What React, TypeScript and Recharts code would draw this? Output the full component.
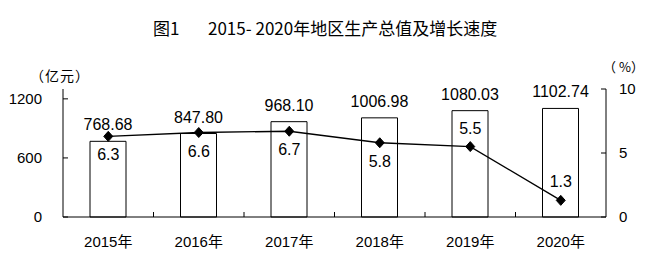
import { ComposedChart, Bar, Line, XAxis, YAxis, LabelList } from 'recharts';

const years = ['2015年', '2016年', '2017年', '2018年', '2019年', '2020年'];
const gdp = [768.68, 847.8, 968.1, 1006.98, 1080.03, 1102.74];
const growth = [6.3, 6.6, 6.7, 5.8, 5.5, 1.3];
const gdpTicks = [0, 600, 1200];
const growthTicks = [0, 5, 10];

const W = 653;
const H = 259;
const LEFT_W = 63;
const RIGHT_W = 47;
const BAND = (W - LEFT_W - RIGHT_W) / years.length;
const FONT = '"Liberation Sans", "Noto Sans CJK SC", sans-serif';
const CJK = '"Noto Sans CJK SC", "Liberation Sans", sans-serif';

// growth labels that sit above the point instead of below
const labelAbove = (i: number) => i >= 4;

const data = years.map((year, i) => ({ year, gdp: gdp[i], growth: growth[i] }));

function LeftTick(props: any) {
  const { x, y, payload } = props;
  return (
    <g>
      <line x1={x + 21} y1={y} x2={x + 26} y2={y} stroke="#000" />
      <text x={x} y={y} dy={5} textAnchor="end" fontSize={15} fontFamily={FONT} fill="#000">
        {payload.value}
      </text>
    </g>
  );
}

function RightTick(props: any) {
  const { x, y, payload } = props;
  return (
    <g>
      <line x1={x - 13} y1={y} x2={x - 18} y2={y} stroke="#000" />
      <text x={x} y={y} dy={5} textAnchor="start" fontSize={15} fontFamily={FONT} fill="#000">
        {payload.value}
      </text>
    </g>
  );
}

function YearTick(props: any) {
  const { x, y, payload, index } = props;
  return (
    <g>
      {index < years.length - 1 && (
        <line x1={x + BAND / 2} y1={y} x2={x + BAND / 2} y2={y - 5} stroke="#000" />
      )}
      <text x={x} y={y} dy={30} textAnchor="middle" fontSize={15} fontFamily={FONT} fill="#000">
        {payload.value}
      </text>
    </g>
  );
}

function Diamond(props: any) {
  const { cx, cy } = props;
  if (cx == null || cy == null) return null;
  return (
    <polygon
      points={`${cx - 4.5},${cy} ${cx},${cy - 5} ${cx + 4.5},${cy} ${cx},${cy + 5}`}
      fill="#000"
      stroke="#000"
    />
  );
}

function GdpLabel(props: any) {
  const { x, y, width, value } = props;
  return (
    <text x={x + width / 2} y={y - 11} textAnchor="middle" fontSize={16} fontFamily={FONT} fill="#000">
      {Number(value).toFixed(2)}
    </text>
  );
}

function GrowthLabel(props: any) {
  const { x, y, value } = props;
  const i = props.index ?? growth.indexOf(value);
  return (
    <text
      x={x}
      y={labelAbove(i) ? y - 13 : y + 24}
      textAnchor="middle"
      fontSize={16}
      fontFamily={FONT}
      fill="#000"
    >
      {value}
    </text>
  );
}

export default function App() {
  return (
    <div style={{ position: 'absolute', left: 0, top: 0, width: W, height: H, background: '#fff' }}>
      <div style={{ position: 'absolute', left: 153, top: 16, fontFamily: CJK, fontSize: 17, lineHeight: '24px', color: '#000' }}>
        图1
      </div>
      <div style={{ position: 'absolute', left: 208, top: 16, fontFamily: CJK, fontSize: 17, lineHeight: '24px', color: '#000', whiteSpace: 'pre' }}>
        2015- 2020年地区生产总值及增长速度
      </div>
      <div style={{ position: 'absolute', left: 30, top: 65, fontFamily: CJK, fontSize: 14, lineHeight: '20px', color: '#000', letterSpacing: 1 }}>
        （亿元）
      </div>
      <div style={{ position: 'absolute', left: 603, top: 57, fontFamily: CJK, fontSize: 13, lineHeight: '20px', color: '#000', whiteSpace: 'pre' }}>
        （ %）
      </div>
      <ComposedChart width={W} height={H} data={data} margin={{ top: 89, right: 0, bottom: 0, left: 0 }}>
        <XAxis
          dataKey="year"
          height={42}
          axisLine={{ stroke: '#000' }}
          tickLine={false}
          tickSize={0}
          tickMargin={0}
          tick={<YearTick />}
          interval={0}
        />
        <YAxis
          yAxisId="left"
          width={LEFT_W}
          domain={[0, 1300]}
          ticks={gdpTicks}
          axisLine={{ stroke: '#000' }}
          tickLine={false}
          tickSize={0}
          tickMargin={21}
          tick={<LeftTick />}
        />
        <YAxis
          yAxisId="right"
          orientation="right"
          width={RIGHT_W}
          domain={[0, 10]}
          ticks={growthTicks}
          axisLine={{ stroke: '#000' }}
          tickLine={false}
          tickSize={0}
          tickMargin={13}
          tick={<RightTick />}
        />
        <Bar yAxisId="left" dataKey="gdp" barSize={36} fill="#fff" stroke="#000" strokeWidth={1} isAnimationActive={false}>
          <LabelList dataKey="gdp" content={<GdpLabel />} />
        </Bar>
        <Line
          yAxisId="right"
          dataKey="growth"
          type="linear"
          stroke="#000"
          strokeWidth={1.3}
          dot={<Diamond />}
          activeDot={false}
          isAnimationActive={false}
        >
          <LabelList dataKey="growth" content={<GrowthLabel />} />
        </Line>
      </ComposedChart>
    </div>
  );
}
